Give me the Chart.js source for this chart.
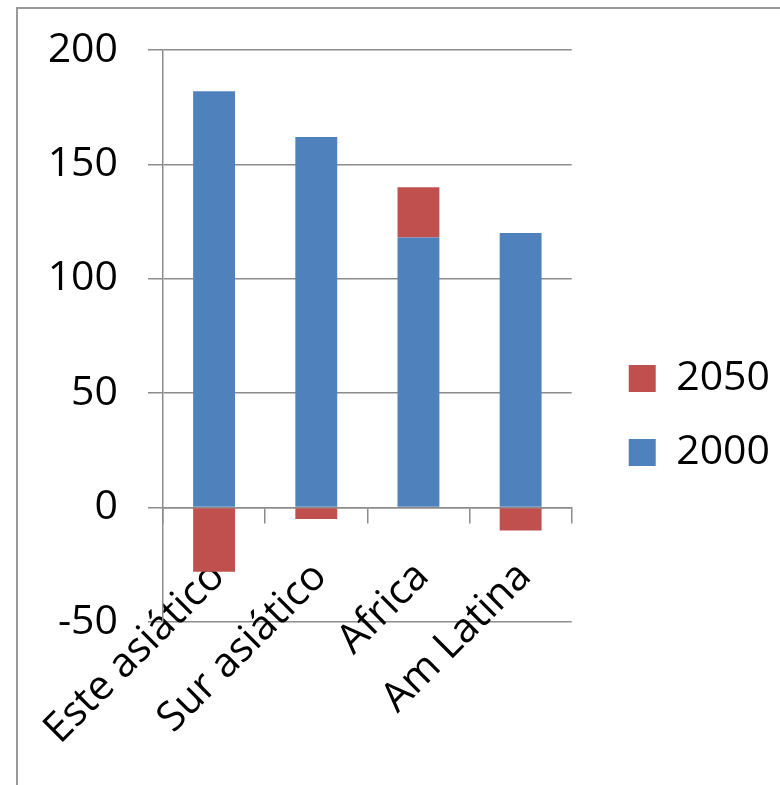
<!DOCTYPE html>
<html>
<head>
<meta charset="utf-8">
<script src="https://cdn.jsdelivr.net/npm/chart.js@4.4.0/dist/chart.umd.min.js"></script>
<style>
  html, body { margin: 0; padding: 0; background: #fff; }
  #wrap { position: relative; width: 780px; height: 785px; overflow: hidden; }
  #frame { position: absolute; left: 16px; top: 7px; width: 900px; height: 900px; border: 2px solid #999; }
  #chart { position: absolute; left: 0; top: 0; }
</style>
</head>
<body>
<div id="wrap">
  <div id="frame"></div>
  <canvas id="chart" width="780" height="785"></canvas>
</div>
<script>
var categories = ['Este asiático', 'Sur asiático', 'Africa', 'Am Latina'];
var values2000 = [182, 162, 118, 120];
var values2050 = [-28, -5, 22, -10];
var yTicks = [-50, 0, 50, 100, 150, 200];

var axisColor = '#8c8c8c';
var fontFamily = '"Open Sans", "Liberation Sans", sans-serif';

function initChart() {
  var ctx = document.getElementById('chart').getContext('2d');

  var chart = new Chart(ctx, {
    type: 'bar',
    data: {
      labels: categories,
      datasets: [{
        label: '2000',
        backgroundColor: '#4f81bd',
        data: values2000
      }, {
        label: '2050',
        backgroundColor: '#c0504d',
        data: values2050
      }]
    },
    options: {
      responsive: false,
      animation: false,
      layout: {
        padding: { left: 50, top: 50, right: 0, bottom: 163 }
      },
      datasets: {
        bar: {
          categoryPercentage: 1,
          barPercentage: 0.41
        }
      },
      plugins: {
        tooltip: { enabled: false },
        legend: {
          position: 'right',
          reverse: true,
          maxWidth: 300,
          // empty title only pushes the two entries down a bit
          title: {
            display: true,
            text: '',
            font: { size: 10 },
            padding: { top: 0, bottom: 147 }
          },
          labels: {
            boxWidth: 27,
            boxHeight: 27,
            padding: 33,
            color: '#000',
            font: { family: fontFamily, size: 41 }
          }
        }
      },
      scales: {
        x: {
          stacked: true,
          position: { y: 0 },
          offset: true,
          afterFit: function(scale) {
            // rotated labels should not push the plot area
            scale.paddingLeft = 0;
            scale.paddingRight = 0;
          },
          grid: {
            offset: true,
            drawOnChartArea: false,
            color: axisColor,
            lineWidth: 1.5,
            tickLength: 15
          },
          border: { color: axisColor, width: 1.5 },
          ticks: {
            color: '#000',
            font: { family: fontFamily, size: 41 },
            minRotation: 45,
            maxRotation: 45,
            autoSkip: false,
            padding: 30,
            labelOffset: 4
          }
        },
        y: {
          stacked: true,
          min: -50,
          max: 200,
          afterBuildTicks: function(scale) {
            scale.ticks = yTicks.map(function(v) { return { value: v }; });
          },
          afterFit: function(scale) {
            scale.width = 113;
            scale.paddingTop = 0;
            scale.paddingBottom = 0;
          },
          grid: {
            color: axisColor,
            lineWidth: 1.5,
            tickLength: 15
          },
          border: { color: axisColor, width: 1.5 },
          ticks: {
            color: '#000',
            font: { family: fontFamily, size: 41 },
            padding: 30
          }
        },
        // empty right axis: keeps the legend clear of the plot
        gap: {
          type: 'linear',
          position: 'right',
          grid: { display: false },
          border: { display: false },
          ticks: { display: false },
          afterFit: function(scale) {
            scale.width = 24;
          }
        }
      }
    }
  });
}

initChart();
</script>
</body>
</html>
